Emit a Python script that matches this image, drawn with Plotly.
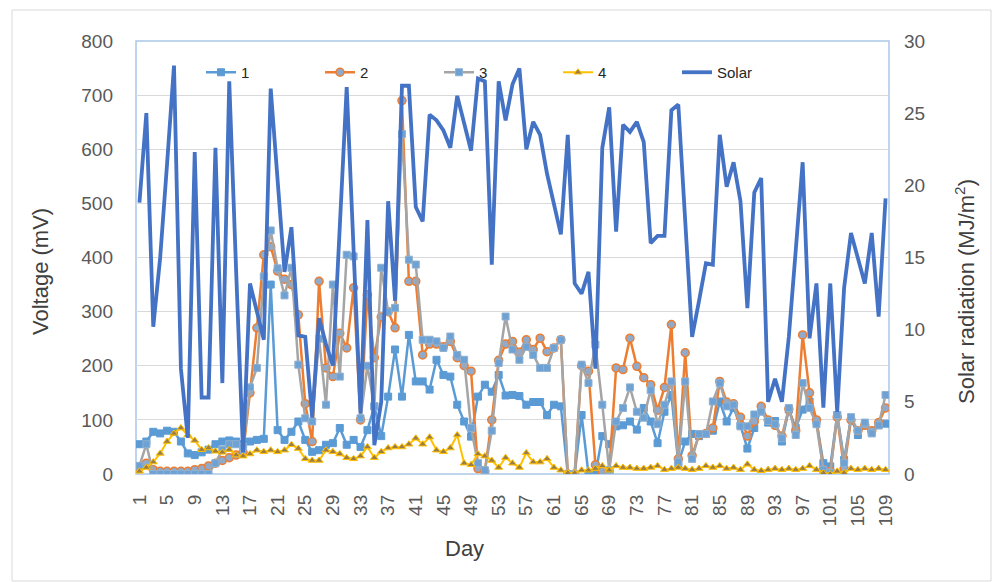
import plotly.graph_objects as go

# Daily readings, days 1..109
days = list(range(1, 110))

# Cell voltages (mV)
v1 = [55, 60, 78, 75, 80, 78, 60, 38, 35, 40, 45, 55, 60, 62, 60, 55,
      60, 63, 65, 350, 81, 63, 78, 97, 63, 41, 44, 54, 57, 85, 54, 63,
      50, 81, 125, 70, 143, 230, 143, 257, 171, 171, 156, 211, 183, 180,
      128, 97, 69, 143, 165, 152, 183, 145, 146, 144, 128, 133, 133, 109,
      128, 125, 0, 0, 109, 0, 0, 70, 55, 88, 90, 97, 82, 122, 97, 57,
      115, 146, 20, 60, 74, 70, 74, 80, 134, 97, 122, 90, 47, 85, 122,
      95, 98, 60, 119, 85, 119, 134, 98, 20, 14, 109, 26, 103, 72, 90,
      78, 90, 93]

v2 = [12, 20, 8, 5, 5, 5, 5, 5, 8, 10, 15, 20, 25, 30, 35, 40,
      150, 270, 405, 420, 375, 360, 350, 294, 130, 60, 356, 196, 180, 260,
      233, 344, 100, 331, 215, 290, 300, 270, 690, 356, 356, 220, 240, 240,
      235, 245, 215, 200, 190, 10, 5, 100, 210, 240, 245, 225, 248, 230,
      251, 226, 233, 248, 0, 0, 200, 190, 17, 5, 5, 196, 193, 251, 199,
      178, 165, 118, 160, 276, 28, 224, 34, 72, 75, 85, 171, 133, 130,
      105, 70, 97, 125, 100, 90, 70, 120, 80, 257, 150, 100, 8, 5, 105,
      10, 100, 80, 90, 80, 95, 122]

v3 = [15, 55, 0, 0, 0, 0, 0, 0, 0, 0, 0, 20, 45, 55, 55, 50,
      160, 196, 365, 450, 380, 330, 381, 202, 103, 97, 250, 128, 350, 180,
      405, 402, 103, 200, 125, 381, 300, 307, 628, 396, 387, 248, 248, 245,
      233, 254, 220, 211, 85, 20, 7, 80, 205, 291, 230, 211, 235, 220, 196,
      196, 233, 248, 0, 0, 202, 168, 239, 128, 7, 97, 122, 160, 115, 104,
      155, 92, 128, 171, 22, 171, 28, 74, 74, 134, 168, 125, 128, 88, 88,
      110, 115, 98, 92, 66, 122, 72, 168, 122, 92, 8, 2, 109, 20, 105, 80,
      95, 75, 90, 146]

v4 = [5, 12, 22, 38, 60, 75, 85, 72, 62, 45, 48, 42, 40, 45, 35, 33,
      37, 44, 41, 44, 41, 44, 54, 47, 28, 25, 25, 44, 41, 37, 30, 28,
      33, 50, 30, 41, 48, 50, 50, 55, 66, 55, 68, 44, 41, 48, 72, 20,
      17, 37, 33, 25, 12, 30, 20, 12, 39, 22, 22, 28, 12, 7, 2, 2, 7, 7,
      10, 15, 7, 15, 12, 12, 10, 10, 12, 15, 8, 10, 12, 10, 8, 10, 15,
      12, 15, 10, 12, 8, 18, 8, 6, 8, 10, 8, 10, 8, 10, 15, 8, 2, 0, 5,
      2, 10, 8, 10, 8, 10, 8]

# Daily solar radiation (MJ/m2)
solar = [18.8, 25.0, 10.2, 15.0, 21.5, 28.3, 7.3, 2.5, 22.3, 5.3, 5.3, 22.6,
         6.3, 27.2, 14.0, 1.5, 13.2, 11.3, 9.3, 26.7, 20.0, 14.0, 17.1, 9.6,
         9.5, 3.9, 10.8, 9.0, 7.5, 17.0, 26.8, 15.5, 4.2, 17.6, 2.0, 5.0,
         18.9, 12.0, 26.9, 26.9, 18.5, 17.5, 24.9, 24.5, 23.8, 22.6, 26.2,
         24.3, 22.4, 27.4, 27.2, 14.5, 27.2, 24.5, 27.0, 28.1, 22.5, 24.4,
         23.5, 20.8, 18.6, 16.6, 23.5, 13.2, 12.5, 14.0, 7.3, 22.6, 25.4,
         16.8, 24.2, 23.7, 24.4, 23.0, 16.0, 16.5, 16.5, 25.2, 25.6, 17.5,
         9.5, 12.0, 14.6, 14.5, 23.5, 19.9, 21.6, 18.9, 11.5, 19.5, 20.5,
         5.0, 6.6, 5.0, 9.5, 15.5, 21.6, 9.4, 13.2, 4.6, 13.2, 4.3, 12.9,
         16.7, 15.0, 13.2, 16.7, 10.9, 19.1]

x_ticks = list(range(1, 110, 4))

W, H = 992, 582
L, R, T, B = 136, 103, 41, 108
PW, PH = W - L - R, H - T - B


def px2x(px):
    return (px - L) / PW


def py2y(py):
    return (H - B - py) / PH


FONT = "Arial, Liberation Sans, sans-serif"

fig = go.Figure()

fig.add_trace(go.Scatter(
    x=days, y=v1, name="1", mode="lines+markers",
    line=dict(color="#5B9BD5", width=2.5),
    marker=dict(symbol="square", size=7, color="#5B9BD5",
                line=dict(color="#5B9BD5", width=1))))
fig.add_trace(go.Scatter(
    x=days, y=v2, name="2", mode="lines+markers",
    line=dict(color="#ED7D31", width=2.5),
    marker=dict(symbol="circle", size=8, color="#8FAACB",
                line=dict(color="#ED7D31", width=1.5))))
fig.add_trace(go.Scatter(
    x=days, y=v3, name="3", mode="lines+markers",
    line=dict(color="#A5A5A5", width=2.5),
    marker=dict(symbol="square", size=7, color="#6FA2D4",
                line=dict(color="#8FB0CF", width=1))))
fig.add_trace(go.Scatter(
    x=days, y=v4, name="4", mode="lines+markers",
    line=dict(color="#FFC000", width=2),
    marker=dict(symbol="triangle-up", size=7, color="#9C7D45",
                line=dict(color="#FFC000", width=1))))
fig.add_trace(go.Scatter(
    x=days, y=solar, name="Solar", mode="lines", yaxis="y2",
    line=dict(color="#4472C4", width=3.8)))

fig.update_layout(
    width=W, height=H,
    margin=dict(l=L, r=R, t=T, b=B, pad=0),
    paper_bgcolor="white", plot_bgcolor="white",
    font=dict(family=FONT, color="#595959"),
    showlegend=True,
    legend=dict(orientation="h", x=px2x(201), y=py2y(56),
                xanchor="left", yanchor="top", entrywidth=74,
                entrywidthmode="pixels", bgcolor="rgba(0,0,0,0)",
                font=dict(family=FONT, size=15, color="#262626")),
    xaxis=dict(range=[0.5, 109.5], tickvals=x_ticks, tickangle=-90,
               showgrid=False, zeroline=False, showline=False, ticks="",
               tickfont=dict(size=19, color="#595959"),
               ticklabelstandoff=16),
    yaxis=dict(range=[0, 800], dtick=100, showgrid=True,
               gridcolor="#D9D9D9", gridwidth=1, zeroline=False,
               showline=False, ticks="",
               tickfont=dict(size=19, color="#595959"),
               ticklabelstandoff=22),
    yaxis2=dict(range=[0, 30], dtick=5, overlaying="y", side="right",
                showgrid=False, zeroline=False, showline=False, ticks="",
                tickfont=dict(size=19, color="#595959"),
                ticklabelstandoff=14),
    shapes=[
        # outer chart border
        dict(type="rect", xref="paper", yref="paper",
             x0=px2x(12), x1=px2x(991), y0=py2y(581), y1=py2y(10),
             line=dict(color="#D9D9D9", width=1), layer="below"),
        # plot area frame
        dict(type="rect", xref="paper", yref="paper",
             x0=0, x1=1, y0=0, y1=1,
             line=dict(color="#A9C8E8", width=1.5), layer="below"),
    ],
    annotations=[
        dict(text="Voltage (mV)", x=px2x(40), y=py2y(272), xref="paper",
             yref="paper", xanchor="center", yanchor="middle",
             showarrow=False, textangle=-90,
             font=dict(family=FONT, size=22, color="#404040")),
        dict(text="Solar radiation (MJ/m<sup>2</sup>)", x=px2x(965),
             y=py2y(291), xref="paper", yref="paper", xanchor="center",
             yanchor="middle", showarrow=False, textangle=-90,
             font=dict(family=FONT, size=22, color="#404040")),
        dict(text="Day", x=px2x(464), y=py2y(548), xref="paper",
             yref="paper", xanchor="center", yanchor="middle",
             showarrow=False,
             font=dict(family=FONT, size=22, color="#404040")),
    ],
)

fig.write_html("out.html")
